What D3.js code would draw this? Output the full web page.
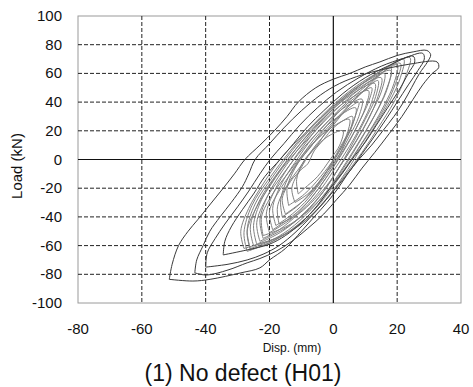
<!DOCTYPE html>
<html>
<head>
<meta charset="utf-8">
<script src="https://cdn.jsdelivr.net/npm/d3@7"></script>
<style>
  body { margin: 0; background: #fff; }
  text { font-family: Arial, "Liberation Sans", sans-serif; fill: #111; }
</style>
</head>
<body>
<svg id="chart" width="473" height="387"></svg>
<script>
// axis ticks
var xTicks = [-80, -60, -40, -20, 0, 20, 40];
var yTicks = [-100, -80, -60, -40, -20, 0, 20, 40, 60, 80, 100];

// large cycles (dark lines), each loop: negative peak -> positive peak -> back, [disp mm, load kN]
var loopD1 = [[-51.4,-83.5],[-50.5,-73],[-48.5,-60],[-45.5,-50],[-42.5,-42],[-38.5,-31],[-34.5,-20],[-31,-10],[-27.7,0],[-23,10],[-18.5,20],[-14.5,30],[-11,40],[-5.5,50],[0,56],[5.2,60],[10,64.5],[14.6,68],[20,72.5],[25,75],[29.3,76],
              [30.5,73],[29.5,68],[27,60],[24.5,50],[22,40],[19,30],[15.5,20],[12,10],[8,0],[4.5,-10],[1.5,-20],[-2,-30],[-6,-40],[-10,-50],[-15,-62],[-20,-70],[-23,-75.5],[-29,-79],[-38.6,-83.5],[-44,-84.7],[-51.4,-83.5]];
var loopD2 = [[-43.4,-79],[-42.8,-70],[-40.8,-60],[-38.7,-50],[-35.5,-40],[-32,-30],[-28.5,-19],[-26.5,-10],[-24.5,0],[-20,11],[-15.5,22],[-10,34],[-4,45],[2,53],[9,59],[16,63],[24,66.5],[32.5,68],
              [33,64],[31,60],[28,52],[25,42],[21.5,30],[17.5,18],[13,5],[9,-6],[5,-18],[1,-28],[-3,-38],[-8,-48],[-13,-57],[-18,-64],[-23,-69],[-27,-72],[-33,-77],[-39.7,-80.5],[-43.4,-79]];
var loopD3 = [[-40,-75],[-39.5,-65],[-37,-55],[-34,-45],[-30,-33],[-26.5,-22],[-23,-10],[-19.8,0],[-15.5,11],[-10.5,24],[-5,36],[1,47],[8,57],[15,65],[22,70.5],[28,74],
              [28.5,70],[26.5,62],[23.5,52],[20,40],[16.5,28],[12.5,15],[9,4],[5.5,-7],[1.5,-18],[-3,-30],[-7.5,-41],[-12,-51],[-17,-60],[-22,-66],[-27,-70],[-33,-73],[-40,-75]];
var loopD4 = [[-34.5,-66.5],[-34,-57],[-32,-47],[-28.5,-35],[-25,-24],[-21.5,-12],[-16.7,0],[-12.5,11],[-8,23],[-3,34],[3,46],[10,57],[17,65],[25,72],
              [25.5,68],[23.5,60],[20.5,48],[17,36],[13.5,24],[10,12],[6.5,2],[3,-9],[-1,-20],[-5,-32],[-10,-44],[-15,-53],[-20,-59],[-27,-63],[-34.5,-66.5]];

// smaller cycles (gray band)
var loopG1 = [[-11,-24],[-11.5,-14],[-9.5,-2],[-5,10],[-1,17],[3,20],[2,10],[-1,0],[-5,-12],[-9,-20],[-11,-24]];
var loopG2 = [[-14,-32],[-14.5,-20],[-12,-6],[-7.5,8],[-2,20],[5,28],[4,16],[1,3],[-4,-12],[-9,-24],[-14,-32]];
var loopG3 = [[-16,-40],[-16.5,-28],[-14,-12],[-10,2],[-4.5,18],[1,29],[7,36],[6,24],[3,10],[-1,-5],[-6,-20],[-11,-32],[-16,-40]];
var loopG4 = [[-18,-46],[-19,-34],[-16.5,-18],[-12,-2],[-6.5,15],[-1,28],[4,37],[9,42],[8,30],[5,16],[1,0],[-4,-16],[-9,-30],[-14,-40],[-18,-46]];
var loopG5 = [[-20,-51],[-21,-38],[-18.5,-22],[-14,-5],[-8.5,12],[-3,27],[3,39],[11,48],[10,36],[7,21],[3,5],[-2,-12],[-7,-27],[-13,-41],[-20,-51]];
var loopG6 = [[-22,-55],[-23,-42],[-20.5,-25],[-16,-8],[-10,10],[-4,26],[3,41],[13,53],[12,40],[9,25],[5,9],[0,-8],[-5,-24],[-11,-38],[-17,-49],[-22,-55]];
var loopG7 = [[-24,-59],[-25,-46],[-22.5,-28],[-17.5,-10],[-11.5,8],[-5,25],[3,42],[15,57],[14,44],[11,28],[7,12],[2,-5],[-3,-22],[-9,-37],[-16,-50],[-24,-59]];
var loopG8 = [[-26,-62],[-27,-49],[-24.5,-31],[-19,-12],[-13,6],[-6,24],[3,43],[10,54],[18,62],[16.5,48],[13,31],[8.5,14],[4,-2],[-1,-19],[-7,-35],[-14,-49],[-20,-57],[-26,-62]];
var loopG9 = [[-27,-64],[-28,-51],[-25.5,-32],[-20,-13],[-13.5,6],[-6,25],[3,44],[12,58],[21,67],[19.5,53],[16,36],[11,18],[6,1],[0.5,-17],[-5.5,-34],[-13,-49],[-20,-58],[-27,-64]];
var loopG10 = [[-25,-60],[-26,-47],[-23,-28],[-17,-8],[-10,12],[-2,31],[7,49],[15,62],[24,71],[22.5,57],[19,40],[14,22],[9,5],[3,-13],[-3,-30],[-10,-45],[-18,-55],[-25,-60]];
// repeated cycles at each level, slightly shifted and jagged
var loopG11 = [[-12,-30],[-13,-20],[-10.5,-8],[-8,-3],[-6,6],[-3,14],[0,22],[3,27],[6,30],[5.5,22],[4,15],[2.5,6],[0,-3],[-2,-8],[-5,-17],[-8,-24],[-12,-30]];
var loopG12 = [[-15,-38],[-16,-27],[-13,-14],[-11,-9],[-8,2],[-5,10],[-2,20],[2,30],[5,36],[8,40],[7,31],[5.5,22],[3,12],[1,4],[-2,-8],[-5,-18],[-9,-28],[-15,-38]];
var loopG13 = [[-19,-49],[-20,-36],[-17,-22],[-14,-12],[-11,-2],[-7,9],[-4,18],[0,29],[5,40],[12,50],[11,40],[8.5,28],[6,17],[3,6],[0,-5],[-3,-15],[-7,-27],[-12,-38],[-19,-49]];
var loopG14 = [[-23,-57],[-24,-44],[-21,-27],[-17,-14],[-13,-2],[-9,9],[-4,21],[1,33],[8,47],[16,60],[15,47],[12,33],[9,20],[5.5,7],[2,-5],[-2,-19],[-7,-33],[-13,-45],[-23,-57]];
var loopG15 = [[-26,-63],[-27,-50],[-24,-33],[-20,-19],[-16,-6],[-11,7],[-6,19],[0,33],[6,45],[13,57],[20,66],[19,53],[16,38],[12.5,24],[8.5,10],[4,-5],[-1,-20],[-6,-35],[-12,-47],[-19,-57],[-26,-63]];
var loopG16 = [[-28,-62],[-29,-50],[-26.5,-34],[-22,-17],[-16,2],[-9,18],[-2,33],[6,48],[14,60],[22,70],[21,57],[18,42],[13.5,25],[9,9],[4.5,-7],[-1,-24],[-7,-39],[-15,-52],[-28,-62]];
var loopG17 = [[-22,-53],[-22.5,-40],[-19,-24],[-14,-9],[-9,5],[-4,17],[2,31],[9,47],[18,64],[17,50],[14,35],[10,19],[6,4],[2,-10],[-3,-25],[-9,-38],[-15,-47],[-22,-53]];
var loopG18 = [[-17,-45],[-17.5,-33],[-14.5,-18],[-10,-4],[-5.5,10],[0,24],[6,40],[14,55],[13,42],[10,28],[6.5,13],[3,-1],[-1,-15],[-6,-28],[-11,-38],[-17,-45]];

var darkLoops = [loopD1, loopD2, loopD3, loopD4];
var grayLoops = [loopG1, loopG2, loopG3, loopG4, loopG5, loopG6, loopG7, loopG8, loopG9, loopG10,
                 loopG11, loopG12, loopG13, loopG14, loopG15, loopG16, loopG17, loopG18];

var svg = d3.select('#chart');
var plot = { left: 78, top: 16, right: 461, bottom: 303 };

var x = d3.scaleLinear().domain([-80, 40]).range([plot.left, plot.right]);
var y = d3.scaleLinear().domain([-100, 100]).range([plot.bottom, plot.top]);

// frame
svg.append('rect')
    .attr('x', plot.left).attr('y', plot.top)
    .attr('width', plot.right - plot.left).attr('height', plot.bottom - plot.top)
    .attr('fill', 'none').attr('stroke', '#9a9a9a').attr('stroke-width', 1);

// dashed grid
var grid = svg.append('g').attr('class', 'grid');
grid.selectAll('line.gx')
    .data(xTicks.filter(function (d) { return d !== 0 && d > -80 && d < 40; }))
    .enter().append('line')
    .attr('x1', x).attr('x2', x)
    .attr('y1', plot.top).attr('y2', plot.bottom);
grid.selectAll('line.gy')
    .data(yTicks.filter(function (d) { return d !== 0 && d > -100 && d < 100; }))
    .enter().append('line')
    .attr('y1', y).attr('y2', y)
    .attr('x1', plot.left).attr('x2', plot.right);
grid.selectAll('line')
    .attr('stroke', '#222').attr('stroke-width', 1).attr('stroke-dasharray', '4,2');

// zero lines
svg.append('line')
    .attr('x1', x(0)).attr('x2', x(0)).attr('y1', plot.top).attr('y2', plot.bottom)
    .attr('stroke', '#111').attr('stroke-width', 1.2);
svg.append('line')
    .attr('y1', y(0)).attr('y2', y(0)).attr('x1', plot.left).attr('x2', plot.right)
    .attr('stroke', '#111').attr('stroke-width', 1.2);

// curves
var line = d3.line()
    .x(function (d) { return x(d[0]); })
    .y(function (d) { return y(d[1]); })
    .curve(d3.curveCatmullRom.alpha(0.5));

svg.append('g').selectAll('path')
    .data(grayLoops)
    .enter().append('path')
    .attr('d', line)
    .attr('fill', 'none').attr('stroke', '#808080').attr('stroke-width', 1);

svg.append('g').selectAll('path')
    .data(darkLoops)
    .enter().append('path')
    .attr('d', line)
    .attr('fill', 'none').attr('stroke', '#3a3a3a').attr('stroke-width', 1);

// tick labels
svg.append('g').selectAll('text')
    .data(yTicks)
    .enter().append('text')
    .attr('x', 62).attr('y', function (d) { return y(d) + 5; })
    .attr('text-anchor', 'end')
    .style('font-size', '15px')
    .text(function (d) { return d; });

svg.append('g').selectAll('text')
    .data(xTicks)
    .enter().append('text')
    .attr('x', x).attr('y', 334)
    .attr('text-anchor', 'middle')
    .style('font-size', '15px')
    .text(function (d) { return d; });

// axis titles
svg.append('text')
    .attr('x', 292).attr('y', 352)
    .attr('text-anchor', 'middle')
    .style('font-size', '12px')
    .text('Disp. (mm)');

svg.append('text')
    .attr('transform', 'translate(22,166) rotate(-90)')
    .attr('text-anchor', 'middle')
    .style('font-size', '15px')
    .text('Load (kN)');

svg.append('text')
    .attr('x', 243).attr('y', 381)
    .attr('text-anchor', 'middle')
    .style('font-size', '23px')
    .text('(1) No defect (H01)');
</script>
</body>
</html>
